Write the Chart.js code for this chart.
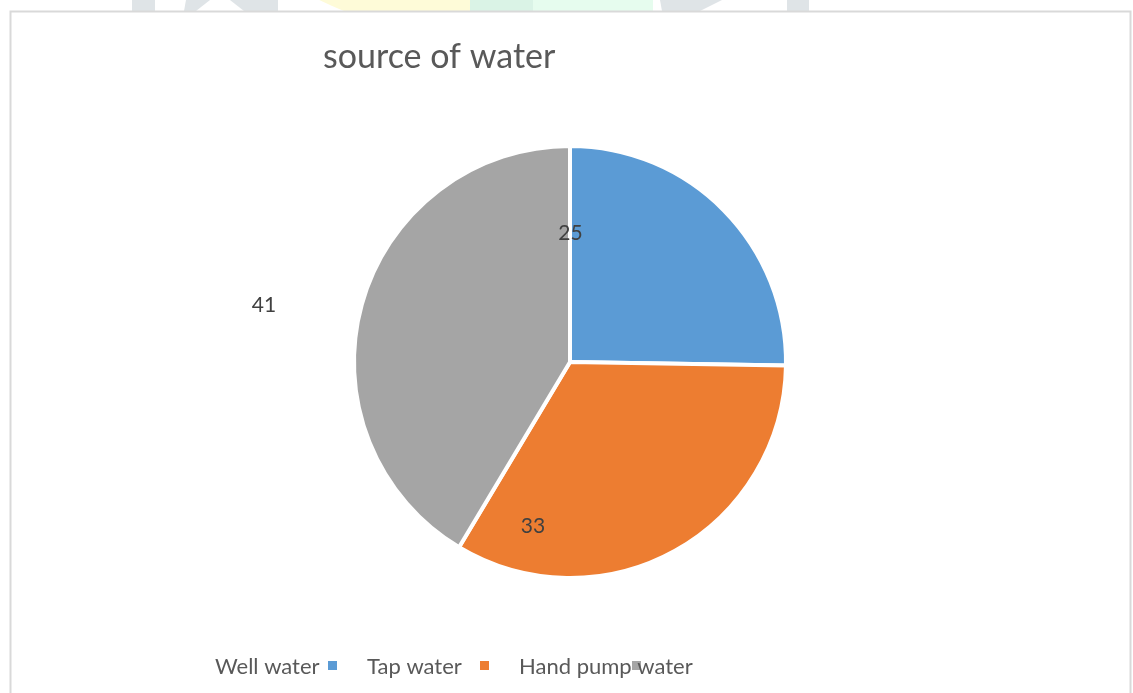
<!DOCTYPE html>
<html>
<head>
<meta charset="utf-8">
<title>source of water</title>
<style>
  html, body { margin: 0; padding: 0; background: #fff; }
  #wrap { width: 1133px; height: 693px; }
</style>
<script src="https://cdn.jsdelivr.net/npm/chart.js@4.4.1/dist/chart.umd.min.js"></script>
</head>
<body>
<div id="wrap"><canvas id="chart" width="1133" height="693"></canvas></div>
<script>
const chartTitle = 'source of water';
const categories = ['Well water', 'Tap water', 'Hand pump water'];
const counts = [25, 33, 41];
const sliceColors = ['#5b9bd5', '#ed7d31', '#a5a5a5'];

const FONT = 'Lato, "Open Sans", sans-serif';

// page frame + faint watermark peeking above it
const framePlugin = {
  id: 'frame',
  beforeDraw(chart) {
    const ctx = chart.ctx;
    ctx.save();
    ctx.fillStyle = '#fff';
    ctx.fillRect(0, 0, chart.width, chart.height);

    ctx.beginPath();
    ctx.rect(0, 0, chart.width, 11);
    ctx.clip();
    // emblem circle (yellow / green halves)
    ctx.fillStyle = '#fefbd8';
    ctx.beginPath();
    ctx.arc(470, -307, 342, 0, Math.PI * 2);
    ctx.fill();
    ctx.save();
    ctx.beginPath();
    ctx.rect(470, 0, 400, 11);
    ctx.clip();
    ctx.fillStyle = '#daf3e6';
    ctx.beginPath();
    ctx.arc(470, -307, 342, 0, Math.PI * 2);
    ctx.fill();
    ctx.fillStyle = '#e6fcee';
    ctx.fillRect(533, 0, 120, 11);
    ctx.restore();
    // grey letter fragments
    ctx.fillStyle = '#dfe4e7';
    ctx.fillRect(132, 0, 23, 11);
    ctx.beginPath();
    ctx.moveTo(186, 0); ctx.lineTo(210, 0); ctx.lineTo(196, 11); ctx.lineTo(184, 11); ctx.fill();
    ctx.beginPath();
    ctx.moveTo(230, 0); ctx.lineTo(278, 0); ctx.lineTo(278, 11); ctx.lineTo(244, 11); ctx.fill();
    ctx.beginPath();
    ctx.moveTo(660, 0); ctx.lineTo(722, 0); ctx.lineTo(700, 11); ctx.lineTo(662, 11); ctx.fill();
    ctx.fillRect(787, 0, 22, 11);
    ctx.restore();

    ctx.save();
    ctx.strokeStyle = '#d9d9d9';
    ctx.lineWidth = 2;
    ctx.strokeRect(10.5, 11.5, 1120, 720);
    ctx.restore();
  }
};

const titlePlugin = {
  id: 'sheetTitle',
  afterDraw(chart) {
    const ctx = chart.ctx;
    ctx.save();
    ctx.font = '34px ' + FONT;
    ctx.fillStyle = '#595959';
    ctx.textBaseline = 'alphabetic';
    ctx.textAlign = 'left';
    ctx.fillText(chartTitle, 323, 68);
    ctx.restore();
  }
};

// value labels, placed by angle (deg from top, clockwise) and radius fraction
const valueLabelPlugin = {
  id: 'valueLabels',
  afterDatasetsDraw(chart, args, opts) {
    const ctx = chart.ctx;
    const meta = chart.getDatasetMeta(0);
    const values = chart.data.datasets[0].data;
    ctx.save();
    ctx.font = '21px ' + FONT;
    ctx.fillStyle = '#404040';
    ctx.textAlign = 'center';
    ctx.textBaseline = 'middle';
    meta.data.forEach((arc, i) => {
      const p = arc.getProps(['x', 'y', 'outerRadius'], true);
      const place = opts.placements[i];
      const a = (place.angle - 90) * Math.PI / 180;
      const r = (p.outerRadius - 2) * place.r;
      ctx.fillText(String(values[i]), p.x + Math.cos(a) * r, p.y + Math.sin(a) * r + 1);
    });
    ctx.restore();
  }
};

// legend with the swatch after the text, in fixed slots
const legendPlugin = {
  id: 'sideSwatchLegend',
  afterDraw(chart, args, opts) {
    const ctx = chart.ctx;
    const ds = chart.data.datasets[0];
    ctx.save();
    ctx.font = '22px ' + FONT;
    ctx.textAlign = 'left';
    ctx.textBaseline = 'alphabetic';
    chart.data.labels.forEach((label, i) => {
      const x = opts.left + i * opts.slot;
      ctx.fillStyle = ds.backgroundColor[i];
      ctx.fillRect(x + opts.boxOffset, opts.boxTop, 9, 9);
      ctx.fillStyle = '#595959';
      ctx.fillText(label, x, opts.baseline);
    });
    ctx.restore();
  }
};

new Chart(document.getElementById('chart'), {
  type: 'pie',
  data: {
    labels: categories,
    datasets: [{
      data: counts,
      backgroundColor: sliceColors,
      borderColor: '#ffffff',
      borderWidth: 4,
      radius: 216
    }]
  },
  plugins: [framePlugin, valueLabelPlugin, titlePlugin, legendPlugin],
  options: {
    responsive: false,
    devicePixelRatio: 1,
    animation: false,
    events: [],
    layout: { padding: { left: 7, right: 0, top: 31, bottom: 0 } },
    plugins: {
      legend: { display: false },
      title: { display: false },
      tooltip: { enabled: false },
      valueLabels: {
        placements: [
          { angle: 0.2, r: 0.605 },
          { angle: 192.8, r: 0.781 },
          { angle: 280.7, r: 1.455 }
        ]
      },
      sideSwatchLegend: { left: 215, slot: 152, boxOffset: 113, boxTop: 661, baseline: 674 }
    }
  }
});
</script>
</body>
</html>
